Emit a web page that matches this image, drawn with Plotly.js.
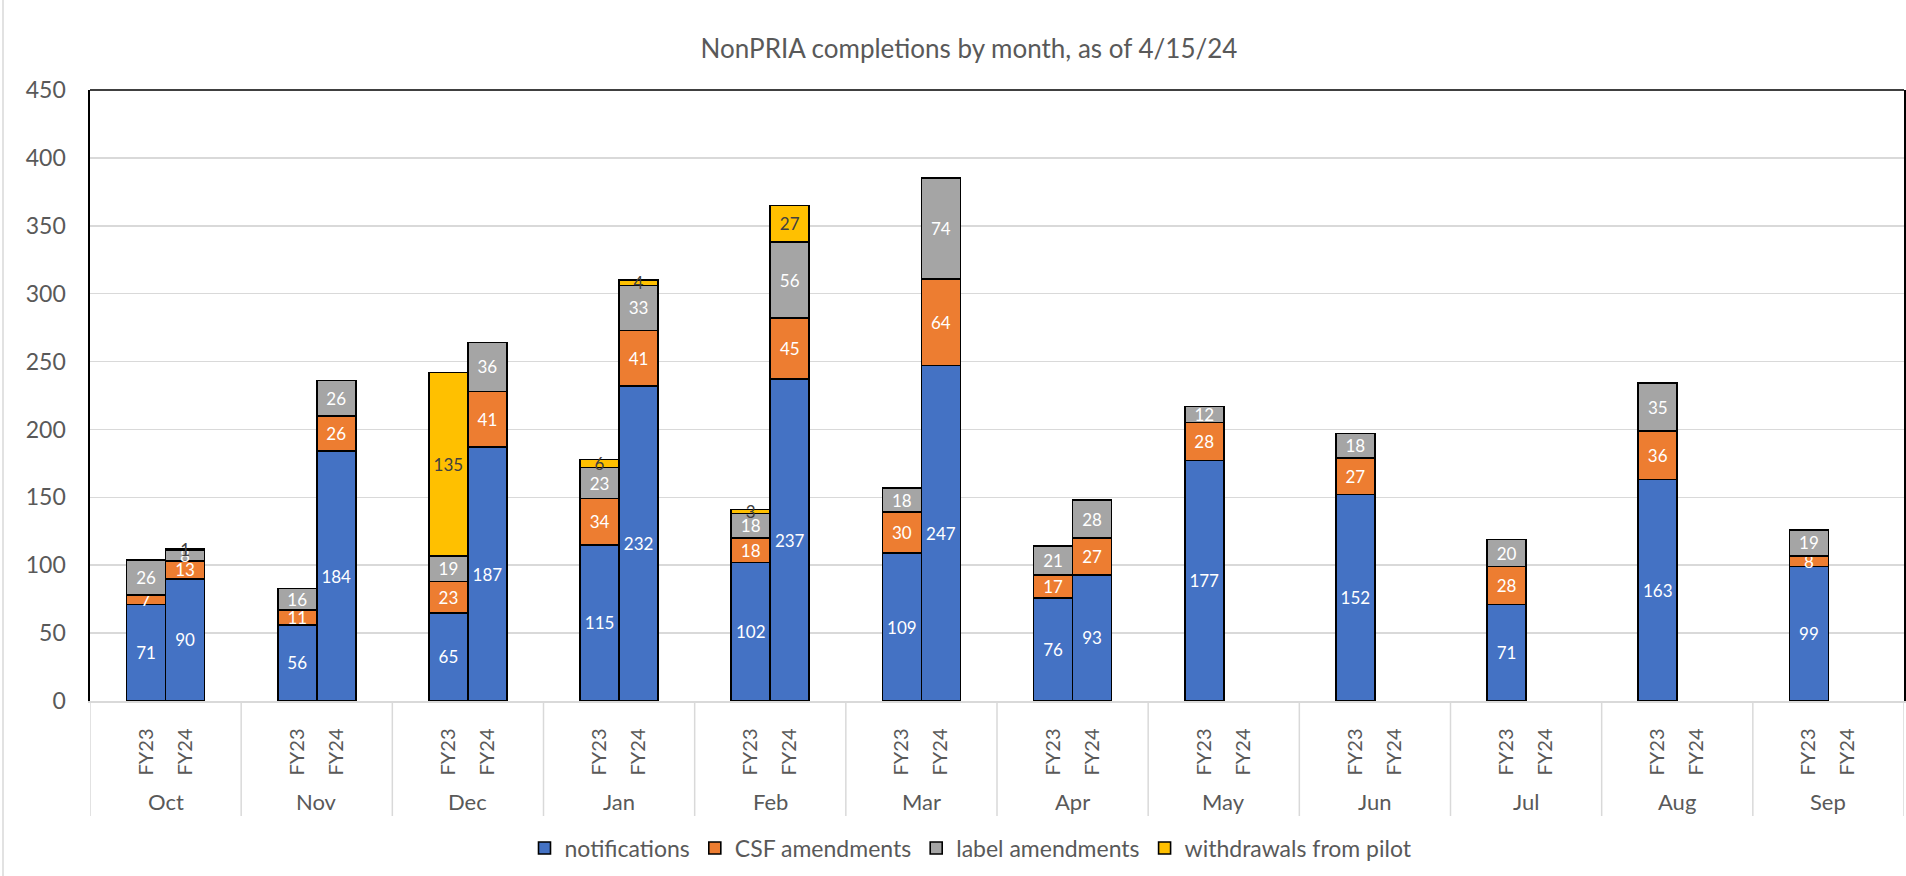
<!DOCTYPE html>
<html>
<head>
<meta charset="utf-8">
<script src="https://cdn.plot.ly/plotly-3.0.1.min.js"></script>
<style>html,body{margin:0;padding:0;background:#fff;}#chart{width:1906px;height:876px;}</style>
</head>
<body>
<div id="chart"></div>
<script>
// ---- data ----
var months = ["Oct","Nov","Dec","Jan","Feb","Mar","Apr","May","Jun","Jul","Aug","Sep"];
var fiscalYears = ["FY23","FY24"];
var seriesNames = ["notifications","CSF amendments","label amendments","withdrawals from pilot"];

// FY23 values by month
var notificationsFY23 = [71, 56, 65, 115, 102, 109, 76, 177, 152, 71, 163, 99];
var csfFY23           = [7, 11, 23, 34, 18, 30, 17, 28, 27, 28, 36, 8];
var labelFY23         = [26, 16, 19, 23, 18, 18, 21, 12, 18, 20, 35, 19];
var withdrawalsFY23   = [0, 0, 135, 6, 3, 0, 0, 0, 0, 0, 0, 0];

// FY24 values by month (null = not yet reported)
var notificationsFY24 = [90, 184, 187, 232, 237, 247, 93, null, null, null, null, null];
var csfFY24           = [13, 26, 41, 41, 45, 64, 27, null, null, null, null, null];
var labelFY24         = [8, 26, 36, 33, 56, 74, 28, null, null, null, null, null];
var withdrawalsFY24   = [1, 0, 0, 4, 27, 0, 0, null, null, null, null, null];

var yTicks = [0, 50, 100, 150, 200, 250, 300, 350, 400, 450];

// ---- styling ----
var colors = ["#4472C4", "#ED7D31", "#A5A5A5", "#FFC000"];
var textColors = ["#FFFFFF", "#FFFFFF", "#FFFFFF", "#404040"];
var FONT = "Lato, 'Open Sans', sans-serif";
var AXIS_GRAY = "#595959";
var GRID = "#D9D9D9";

var plotW = 1814, plotH = 611;
var barOffset = 0.129, barWidth = 0.258;

// positions for each month/FY combination
var xs = [], tickText = [];
months.forEach(function (m, i) {
  xs.push(i - barOffset); tickText.push(fiscalYears[0]);
  xs.push(i + barOffset); tickText.push(fiscalYears[1]);
});

function interleave(a, b) {
  var out = [];
  for (var i = 0; i < a.length; i++) { out.push(a[i]); out.push(b[i]); }
  return out;
}

var seriesData = [
  interleave(notificationsFY23, notificationsFY24),
  interleave(csfFY23, csfFY24),
  interleave(labelFY23, labelFY24),
  interleave(withdrawalsFY23, withdrawalsFY24)
];

var traces = seriesData.map(function (vals, k) {
  return {
    type: "bar",
    name: seriesNames[k],
    x: xs,
    y: vals,
    width: barWidth,
    text: vals.map(function (v) { return (v === null || v === 0) ? "" : String(v); }),
    textposition: "inside",
    insidetextanchor: "middle",
    textangle: 0,
    constraintext: "none",
    cliponaxis: false,
    textfont: { family: FONT, size: 17, color: textColors[k] },
    marker: { color: colors[k], line: { color: "#000000", width: 1.6 } },
    hoverinfo: "skip"
  };
});

var shapes = [];
// month separators in the category band
for (var s = 0; s <= months.length; s++) {
  shapes.push({
    type: "line", xref: "x", yref: "paper",
    x0: s - 0.5, x1: s - 0.5, y0: 0, y1: -115 / plotH,
    line: { color: GRID, width: 1.5 }, layer: "below"
  });
}
// top border of plot area
shapes.push({
  type: "line", xref: "paper", yref: "paper",
  x0: 0, x1: 1, y0: 1, y1: 1,
  line: { color: "#000000", width: 1.6 }
});
// outer chart frame (left)
shapes.push({
  type: "line", xref: "paper", yref: "paper",
  x0: -87 / plotW, x1: -87 / plotW, y0: -175 / plotH, y1: 1 + 90 / plotH,
  line: { color: GRID, width: 1.5 }
});

var annotations = months.map(function (m, i) {
  return {
    text: m, x: i, xref: "x", y: -100 / plotH, yref: "paper",
    yanchor: "middle", xanchor: "center", showarrow: false,
    font: { family: FONT, size: 22, color: AXIS_GRAY }
  };
});

var layout = {
  width: 1906, height: 876,
  margin: { l: 90, r: 2, t: 90, b: 175 },
  paper_bgcolor: "#FFFFFF", plot_bgcolor: "#FFFFFF",
  barmode: "stack",
  showlegend: true,
  title: {
    text: "NonPRIA completions by month, as of 4/15/24",
    xref: "container", x: 969 / 1906, xanchor: "center",
    yref: "container", y: 1 - 49 / 876, yanchor: "middle",
    font: { family: FONT, size: 26, color: AXIS_GRAY }
  },
  xaxis: {
    range: [-0.5, 11.5],
    tickmode: "array", tickvals: xs, ticktext: tickText,
    tickangle: -90,
    ticks: "outside", ticklen: 18, tickcolor: "rgba(0,0,0,0)",
    tickfont: { family: FONT, size: 20, color: AXIS_GRAY },
    showgrid: false, zeroline: false,
    showline: true, linecolor: GRID, linewidth: 1.5,
    fixedrange: true
  },
  yaxis: {
    range: [0, 450],
    tickmode: "array", tickvals: yTicks,
    ticks: "outside", ticklen: 18, tickcolor: "rgba(0,0,0,0)",
    tickfont: { family: FONT, size: 23, color: AXIS_GRAY },
    showgrid: true, gridcolor: GRID, gridwidth: 1.5,
    zeroline: false,
    showline: true, linecolor: "#000000", linewidth: 1.6, mirror: true,
    fixedrange: true
  },
  uniformtext: { mode: "show", minsize: 17 },
  legend: {
    orientation: "h",
    x: (971 - 90) / plotW, xanchor: "center",
    y: (701 - 848) / plotH, yanchor: "middle",
    font: { family: FONT, size: 23, color: AXIS_GRAY },
    traceorder: "normal"
  },
  shapes: shapes,
  annotations: annotations
};

Plotly.newPlot("chart", traces, layout, { displayModeBar: false, staticPlot: true });
</script>
</body>
</html>
